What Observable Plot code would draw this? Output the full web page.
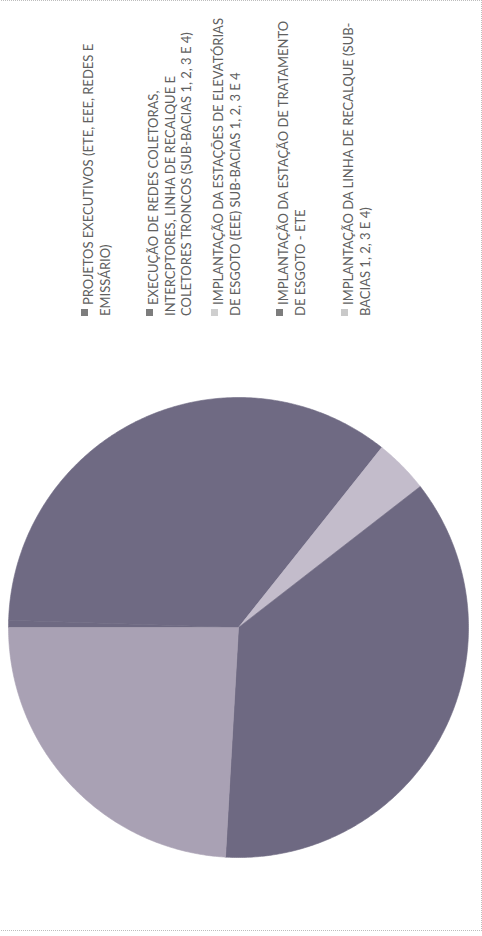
<!DOCTYPE html>
<html><head><meta charset="utf-8">
<script src="https://cdn.jsdelivr.net/npm/d3@7"></script>
<script src="https://cdn.jsdelivr.net/npm/@observablehq/plot@0.6"></script>
<style>
html,body{margin:0;padding:0;background:#fff;}
#page{position:relative;width:482px;height:936px;overflow:hidden;font-family:Lato,"Open Sans",sans-serif;}
#frame{position:absolute;left:-3px;top:0;width:485px;height:931px;box-sizing:border-box;border-top:1px dotted #bdbdbd;border-right:1px dotted #bdbdbd;border-bottom:1px dotted #bdbdbd;}
#legend{position:absolute;left:80px;top:6px;width:340px;height:310px;}
#legend .inner{writing-mode:vertical-rl;transform:rotate(180deg);width:100%;height:100%;}
.item{block-size:65px;line-height:16.5px;font-size:13px;color:#606060;white-space:nowrap;}
.sw{display:inline-block;width:7px;height:7px;margin-inline-end:4px;vertical-align:middle;}
#chart{position:absolute;left:0;top:330px;}
</style></head>
<body><div id="page"><div id="frame"></div><div id="legend"><div class="inner"></div></div><div id="chart"></div></div>
<script>
// Categories (legend order) and their wrapped label lines
const categories = [
  "PROJETOS EXECUTIVOS (ETE, EEE, REDES E EMISSÁRIO)",
  "EXECUÇÃO DE REDES COLETORAS, INTERCPTORES, LINHA DE RECALQUE E COLETORES TRONCOS (SUB-BACIAS 1, 2, 3 E 4)",
  "IMPLANTAÇÃO DA ESTAÇÕES DE ELEVATÓRIAS DE ESGOTO (EEE) SUB-BACIAS 1, 2, 3 E 4",
  "IMPLANTAÇÃO DA ESTAÇÃO DE TRATAMENTO DE ESGOTO - ETE",
  "IMPLANTAÇÃO DA LINHA DE RECALQUE (SUB-BACIAS 1, 2, 3 E 4)"
];
const labelLines = [
  ["PROJETOS EXECUTIVOS (ETE, EEE, REDES E", "EMISSÁRIO)"],
  ["EXECUÇÃO DE REDES COLETORAS,", "INTERCPTORES, LINHA DE RECALQUE E", "COLETORES TRONCOS (SUB-BACIAS 1, 2, 3 E 4)"],
  ["IMPLANTAÇÃO DA ESTAÇÕES DE ELEVATÓRIAS", "DE ESGOTO (EEE) SUB-BACIAS 1, 2, 3 E 4"],
  ["IMPLANTAÇÃO DA ESTAÇÃO DE TRATAMENTO", "DE ESGOTO - ETE"],
  ["IMPLANTAÇÃO DA LINHA DE RECALQUE (SUB-", "BACIAS 1, 2, 3 E 4)"]
];
// Shares (%)
const values = [0.5, 35.2, 3.8, 36.4, 24.1];
const colors = ["#6e6982", "#6f6a83", "#c3bccb", "#6e6982", "#a9a1b4"];
const markerColors = ["#7d7d7d", "#7d7d7d", "#cfcfcf", "#7d7d7d", "#c9c9c9"];
const startAngle = 270; // degrees clockwise from 12 o'clock

// Legend
const inner = document.querySelector("#legend .inner");
categories.forEach((c, i) => {
  const d = document.createElement("div");
  d.className = "item";
  const sw = document.createElement("span");
  sw.className = "sw";
  sw.style.background = markerColors[i];
  d.appendChild(sw);
  labelLines[i].forEach((ln, j) => {
    if (j) d.appendChild(document.createElement("br"));
    d.appendChild(document.createTextNode(ln));
  });
  inner.appendChild(d);
});

// Slice polygons from values
const total = d3.sum(values);
const pts = [];
let acc = startAngle;
values.forEach((v, i) => {
  const a0 = acc, a1 = acc + v / total * 360;
  acc = a1;
  pts.push({name: categories[i], x: 0, y: 0});
  const n = Math.max(2, Math.ceil((a1 - a0) / 0.5));
  for (let k = 0; k <= n; k++) {
    const a = (a0 + (a1 - a0) * k / n) * Math.PI / 180;
    pts.push({name: categories[i], x: Math.sin(a), y: Math.cos(a)});
  }
  pts.push({name: categories[i], x: 0, y: 0});
});

const chart = Plot.plot({
  width: 482, height: 606, margin: 0,
  x: {domain: [-1, 1], range: [8, 468], axis: null},
  y: {domain: [-1, 1], range: [527, 67], axis: null},
  color: {domain: categories, range: colors},
  marks: [
    Plot.line(pts, {x: "x", y: "y", z: "name", fill: "name", stroke: "name", strokeWidth: 0.6, curve: "linear"})
  ]
});
document.getElementById("chart").appendChild(chart);
</script></body></html>
